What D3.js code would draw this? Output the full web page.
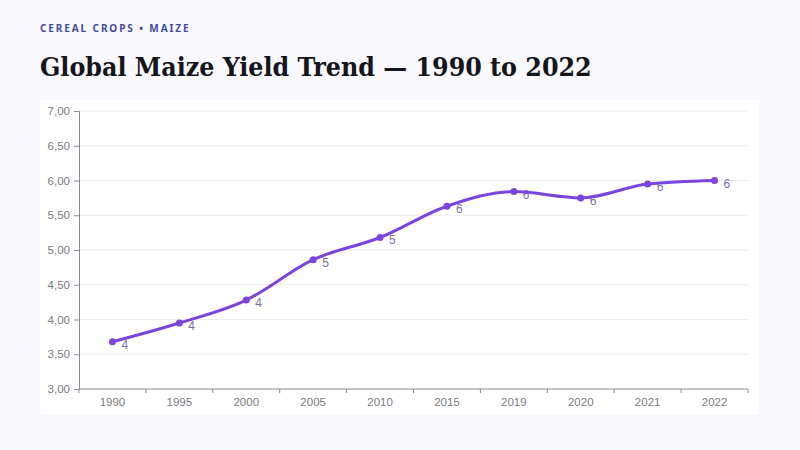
<!DOCTYPE html>
<html>
<head>
<meta charset="utf-8">
<script src="https://cdn.jsdelivr.net/npm/d3@7.9.0/dist/d3.min.js"></script>
<style>
  body { margin: 0; background: #f8f8fd; }
  svg { display: block; }
</style>
</head>
<body>
<svg id="chart" width="800" height="450"></svg>
<script>
// data
const years = ['1990', '1995', '2000', '2005', '2010', '2015', '2019', '2020', '2021', '2022'];
const yieldValues = [3.68, 3.95, 4.28, 4.86, 5.18, 5.63, 5.84, 5.75, 5.95, 6.0];
const yTicks = [3, 3.5, 4, 4.5, 5, 5.5, 6, 6.5, 7];

const svg = d3.select('#chart');
const margin = { top: 111, right: 52, bottom: 61, left: 79 };
const width = 800 - margin.left - margin.right;
const height = 450 - margin.top - margin.bottom;

svg.append('rect').attr('width', 800).attr('height', 450).attr('fill', '#f8f8fd');

// card
svg.append('rect')
  .attr('x', 40).attr('y', 100)
  .attr('width', 719).attr('height', 315)
  .attr('fill', '#ffffff');

svg.append('text')
  .attr('x', 40).attr('y', 32)
  .attr('font-family', '"Noto Sans", sans-serif')
  .attr('font-size', 10)
  .attr('font-weight', 700)
  .attr('letter-spacing', 1.9)
  .attr('fill', '#454a9c')
  .text('CEREAL CROPS • MAIZE');

svg.append('text')
  .attr('x', 40).attr('y', 76)
  .attr('font-family', '"DejaVu Serif Condensed", "DejaVu Serif", serif')
  .attr('font-stretch', 'condensed')
  .attr('font-size', 26.5)
  .attr('font-weight', 700)
  .attr('fill', '#15151c')
  .text('Global Maize Yield Trend — 1990 to 2022');

const g = svg.append('g').attr('transform', `translate(${margin.left},${margin.top})`);

let x = d3.scaleBand().domain(years).range([0, width]);
let y = d3.scaleLinear().domain([3, 7]).range([height, 0]);
const fmt = (d) => d3.format('.2f')(d).replace('.', ',');

// grid
g.append('g')
  .selectAll('line')
  .data(yTicks.filter((d) => d > 3))
  .join('line')
  .attr('x1', 0).attr('x2', width)
  .attr('y1', (d) => y(d)).attr('y2', (d) => y(d))
  .attr('stroke', '#ebebf3')
  .attr('stroke-width', 1);

// y axis
let yAxis = g.append('g')
  .call(d3.axisLeft(y).tickValues(yTicks).tickFormat(fmt).tickSize(5).tickPadding(4));
yAxis.select('.domain').attr('stroke', '#8a8a92');
yAxis.selectAll('.tick line').attr('stroke', '#8a8a92');
yAxis.selectAll('text').attr('fill', '#7a7a80').attr('font-size', 11.5).attr('font-family', '"Liberation Sans", Arial, sans-serif');

// x axis: labels at band centres, ticks at band edges
let xAxis = g.append('g')
  .attr('transform', `translate(0,${height})`)
  .call(d3.axisBottom(x).tickSize(0).tickPadding(9));
xAxis.select('.domain').attr('stroke', '#8a8a92').attr('d', `M0,0H${width}`);
xAxis.selectAll('text').attr('fill', '#7a7a80').attr('font-size', 11.5).attr('font-family', '"Liberation Sans", Arial, sans-serif');
xAxis.selectAll('.edge')
  .data(d3.range(years.length + 1))
  .join('line')
  .attr('class', 'edge')
  .attr('x1', (i) => i * x.step()).attr('x2', (i) => i * x.step())
  .attr('y1', 0).attr('y2', 4)
  .attr('stroke', '#8a8a92');

// value labels (under the line)
g.append('g')
  .selectAll('text')
  .data(yieldValues)
  .join('text')
  .attr('x', (d, i) => x(years[i]) + x.bandwidth() / 2 + 9)
  .attr('y', (d) => y(d) + 7)
  .attr('font-size', 12)
  .attr('font-family', '"Liberation Sans", Arial, sans-serif')
  .attr('fill', '#7a70a0')
  .text((d) => Math.round(d));

let line = d3.line()
  .x((d, i) => x(years[i]) + x.bandwidth() / 2)
  .y((d) => y(d))
  .curve(d3.curveMonotoneX);

g.append('path')
  .datum(yieldValues)
  .attr('d', line)
  .attr('fill', 'none')
  .attr('stroke', '#7a45de')
  .attr('stroke-width', 3);

g.append('g')
  .selectAll('circle')
  .data(yieldValues)
  .join('circle')
  .attr('cx', (d, i) => x(years[i]) + x.bandwidth() / 2)
  .attr('cy', (d) => y(d))
  .attr('r', 3.5)
  .attr('fill', '#7a45de');
</script>
</body>
</html>
